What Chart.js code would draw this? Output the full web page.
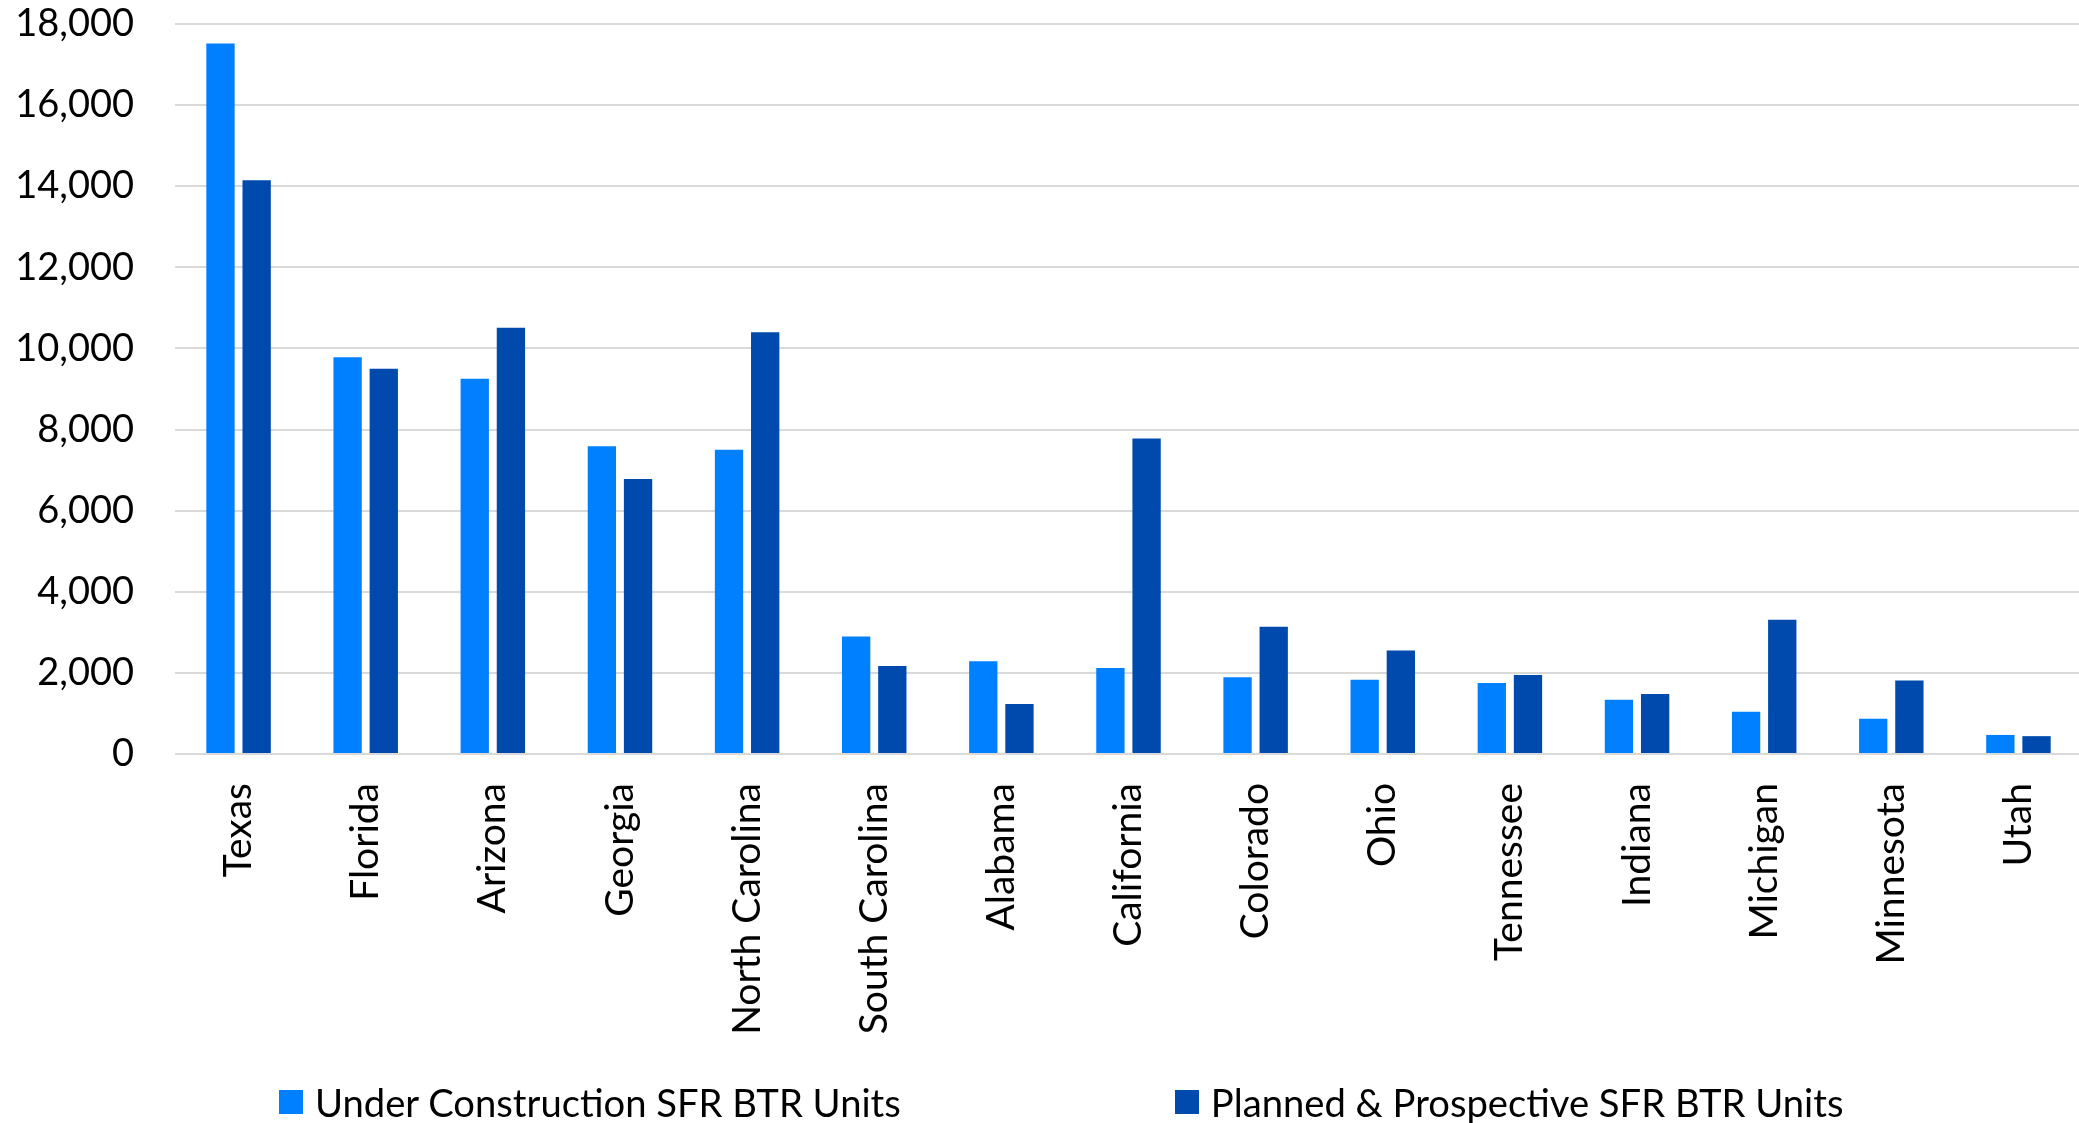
<!DOCTYPE html>
<html>
<head>
<meta charset="utf-8">
<title>SFR BTR Units by State</title>
<script src="https://cdn.jsdelivr.net/npm/chart.js@4/dist/chart.umd.min.js"></script>
<style>
  html, body { margin: 0; padding: 0; background: #fff; overflow: hidden; }
  #wrap { position: relative; width: 2082px; height: 1123px; }
  #btr-chart { display: block; }
  #legend {
    position: absolute;
    left: 279px;
    top: 1079px;
    display: flex;
    align-items: center;
    font-family: Lato, "Open Sans", sans-serif;
    font-size: 38.2px;
    color: #000;
    white-space: nowrap;
  }
  .legend-item { display: flex; align-items: center; margin-right: 274px; }
  .legend-box { width: 24px; height: 24px; margin-right: 12px; }
</style>
</head>
<body>
<div id="wrap">
  <canvas id="btr-chart" width="2082" height="1123"></canvas>
  <div id="legend"></div>
</div>
<script>
// 州別 SFR BTR 戸数
var states = [
  "Texas", "Florida", "Arizona", "Georgia", "North Carolina",
  "South Carolina", "Alabama", "California", "Colorado", "Ohio",
  "Tennessee", "Indiana", "Michigan", "Minnesota", "Utah"
];
var underConstruction = [
  17520, 9780, 9250, 7590, 7500,
  2900, 2290, 2120, 1890, 1830,
  1750, 1340, 1040, 870, 470
];
var plannedProspective = [
  14150, 9500, 10510, 6780, 10400,
  2170, 1230, 7780, 3140, 2550,
  1950, 1480, 3310, 1810, 440
];
var seriesNames = [
  "Under Construction SFR BTR Units",
  "Planned & Prospective SFR BTR Units"
];
var yMax = 18000;
var yStep = 2000;

(function () {
  var FONT = "Lato, 'Open Sans', sans-serif";

  function renderLegend(chart) {
    var el = document.getElementById("legend");
    chart.data.datasets.forEach(function (ds) {
      var item = document.createElement("div");
      item.className = "legend-item";
      var box = document.createElement("span");
      box.className = "legend-box";
      box.style.background = ds.backgroundColor;
      var txt = document.createElement("span");
      txt.textContent = ds.label;
      item.appendChild(box);
      item.appendChild(txt);
      el.appendChild(item);
    });
  }

  var canvas = document.getElementById("btr-chart");
  var chart = new Chart(canvas, {
    type: "bar",
    data: {
      labels: states,
      datasets: [
        {
          label: seriesNames[0],
          data: underConstruction,
          backgroundColor: "#0080FF",
          borderWidth: 0,
          categoryPercentage: 0.569,
          barPercentage: 0.783,
        },
        {
          label: seriesNames[1],
          data: plannedProspective,
          backgroundColor: "#004AAD",
          borderWidth: 0,
          categoryPercentage: 0.569,
          barPercentage: 0.783,
        },
      ],
    },
    options: {
      responsive: false,
      animation: false,
      layout: { padding: { top: 24, left: 0, right: 0, bottom: 0 } },
      plugins: {
        legend: { display: false },
        tooltip: { enabled: false },
      },
      scales: {
        x: {
          grid: { display: false, drawTicks: false },
          border: { display: false },
          ticks: {
            autoSkip: false,
            maxRotation: 90,
            minRotation: 90,
            padding: 29,
            color: "#000",
            font: { family: FONT, size: 39 },
          },
          afterFit: function (s) {
            s.height = 369;
            s.paddingLeft = 0;
            s.paddingRight = 0;
          },
        },
        y: {
          min: 0,
          max: yMax,
          grid: { color: "#d9d9d9", lineWidth: 2, drawTicks: false },
          border: { display: false },
          ticks: {
            stepSize: yStep,
            padding: 41,
            color: "#000",
            font: { family: FONT, size: 38 },
            callback: function (v) {
              return v.toLocaleString("en-US");
            },
          },
          afterFit: function (s) {
            s.width = 175;
            s.paddingTop = 0;
            s.paddingBottom = 0;
          },
        },
      },
    },
  });

  renderLegend(chart);
})();
</script>
</body>
</html>
